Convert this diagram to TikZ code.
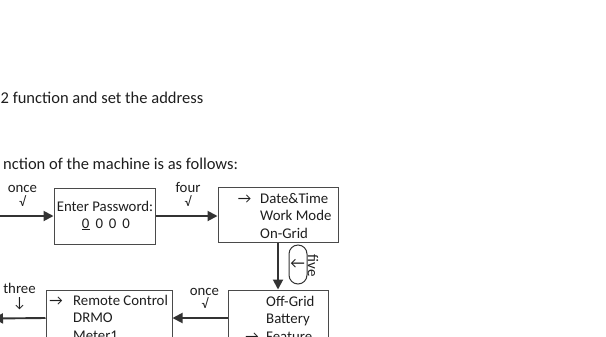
\documentclass[tikz,border=0pt]{standalone}
\usepackage{fontspec}
\setmainfont{Carlito}
\usetikzlibrary{arrows.meta}
\definecolor{txtc}{HTML}{1E1E1E}
\definecolor{linec}{HTML}{333333}
\definecolor{boxc}{HTML}{4A4A4A}
\begin{document}
\begin{tikzpicture}[x=1bp,y=-1bp,
  box/.style={draw=boxc, line width=1bp, inner sep=0pt},
  txt/.style={anchor=base west, inner sep=0pt, text=txtc, font=\fontsize{14.8bp}{17.5bp}\selectfont},
  lbl/.style={anchor=base, inner sep=0pt, text=txtc, font=\fontsize{14.8bp}{17.5bp}\selectfont},
  tick/.style={anchor=base, inner sep=0pt, text=txtc, font=\fontsize{13.5bp}{14bp}\selectfont},
  big/.style={anchor=base west, inner sep=0pt, text=txtc, font=\fontsize{16.5bp}{20bp}\selectfont},
  conn/.style={draw=linec, line width=1.9bp, -{Triangle[length=10bp,width=10bp]}}]
\useasboundingbox (0,0) rectangle (606,336);
\clip (0,0) rectangle (606,336);
\fill[white] (0,0) rectangle (606,336);

% heading text
\node[big] (t1) at (0.5,103) {2 function and set the address};
\node[big] (t2) at (3,169) {nction of the machine is as follows:};

% boxes
\node[box, minimum width=101bp, minimum height=56bp] (b1) at (104.5,216) {};
\node[box, minimum width=120bp, minimum height=55bp] (b2) at (278,214.5) {};
\node[box, minimum width=100bp, minimum height=56bp] (b3) at (278,318) {};
\node[box, minimum width=126bp, minimum height=56bp] (b4) at (109,318) {};
\node[draw=linec, line width=1bp, rounded corners=9bp, minimum width=18bp, minimum height=39bp, inner sep=0pt] (loop) at (298,264.5) {};

% box 1 text
\node[lbl] (p1) at (105,211) {Enter Password:};
\node[lbl] (p2) at (106,228) {\underline{0}\hspace{6bp}0\hspace{6bp}0\hspace{6bp}0};

% box 2 text
\node[lbl] (a2) at (244.5,203) {→};
\node[txt] (d1) at (260,203) {Date\&Time};
\node[txt] (d2) at (260,220.5) {Work Mode};
\node[txt] (d3) at (260,238) {On-Grid};

% box 3 text
\node[txt] (e1) at (266,306) {Off-Grid};
\node[txt] (e2) at (266,323.5) {Battery};
\node[lbl] (a3) at (252,341) {→};
\node[txt] (e3) at (266,341) {Feature};

% box 4 text
\node[lbl] (a4) at (56,305) {→};
\node[txt] (f1) at (73,305) {Remote Control};
\node[txt] (f2) at (73,322.5) {DRMO};
\node[txt] (f3) at (73,340) {Meter1};

% loop labels
\node[inner sep=0pt, text=txtc, font=\fontsize{16bp}{17.5bp}\selectfont] (l1) at (297.5,264) {←};
\node[inner sep=0pt, text=txtc, font=\fontsize{15bp}{17.5bp}\selectfont, rotate=-90] (l2) at (313,266) {five};

% connector labels
\node[lbl] (o1) at (22.5,192) {once};
\node[tick] (o1v) at (22.5,206) {√};
\node[lbl] (fo) at (188,192) {four};
\node[tick] (fov) at (188,206) {√};
\node[lbl] (th) at (19.5,293) {three};
\node[lbl] (thv) at (19.5,307) {↓};
\node[lbl] (o2) at (204.5,295) {once};
\node[tick] (o2v) at (205,308) {√};

% connectors
\coordinate (in) at (-4,216);
\coordinate (out) at (-7,318.5);
\draw[conn] (in) -- (b1.west);
\draw[conn] (b1.east) -- (b1.east -| b2.west);
\draw[conn] (b2.south) -- (b3.north);
\draw[conn] (b3.west) -- (b3.west -| b4.east);
\draw[conn] (b4.west) -- (out);
\end{tikzpicture}
\end{document}
